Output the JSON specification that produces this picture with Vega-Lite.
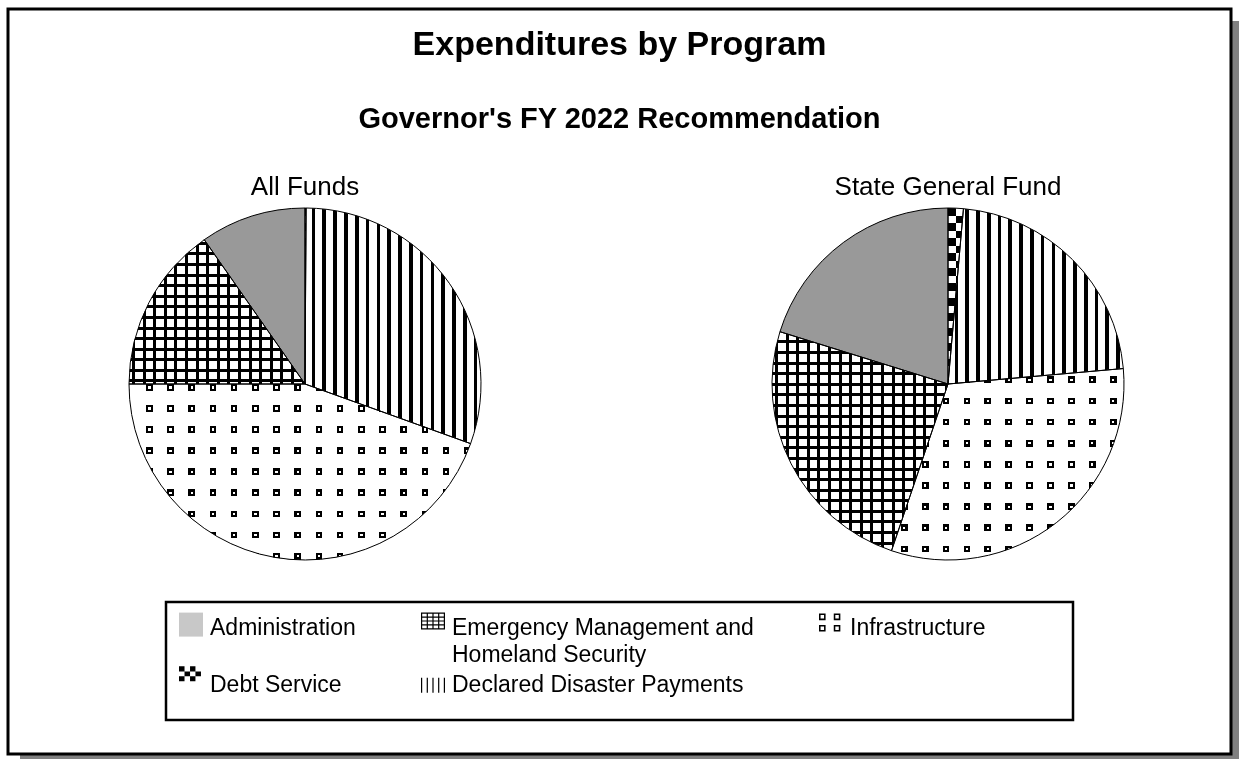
{
  "$schema": "https://vega.github.io/schema/vega-lite/v6.json",
  "width": 1223,
  "height": 745,
  "autosize": {"type": "none"},
  "padding": {"left": 8, "top": 9, "right": 8, "bottom": 5},
  "background": "white",
  "title": {
    "text": "Expenditures by Program",
    "subtitle": "Governor's FY 2022 Recommendation",
    "anchor": "middle",
    "frame": "group",
    "font": "Liberation Sans",
    "fontSize": 34,
    "fontWeight": "bold",
    "color": "black",
    "subtitleFont": "Liberation Sans",
    "subtitleFontSize": 29,
    "subtitleFontWeight": "bold",
    "subtitleColor": "black",
    "subtitlePadding": 42.7,
    "offset": -126.6
  },
  "data": {
    "values": [
      {"fund": "All Funds", "program": "Debt Service", "value": 0.1},
      {"fund": "All Funds", "program": "Declared Disaster Payments", "value": 30.4},
      {"fund": "All Funds", "program": "Infrastructure", "value": 44.5},
      {"fund": "All Funds", "program": "Emergency Management and Homeland Security", "value": 15.3},
      {"fund": "All Funds", "program": "Administration", "value": 9.7},
      {"fund": "State General Fund", "program": "Debt Service", "value": 1.4},
      {"fund": "State General Fund", "program": "Declared Disaster Payments", "value": 22.2},
      {"fund": "State General Fund", "program": "Infrastructure", "value": 31.6},
      {"fund": "State General Fund", "program": "Emergency Management and Homeland Security", "value": 24.6},
      {"fund": "State General Fund", "program": "Administration", "value": 20.2}
    ]
  },
  "transform": [{"stack": "value", "groupby": ["fund"], "as": ["t0", "t1"]}],
  "layer": [
    {
      "transform": [{"filter": "datum.fund === 'All Funds' && datum.program === 'Administration'"}],
      "mark": {"type": "rect", "fill": "#808080", "x": {"expr": "width + 12"}, "x2": 12, "y": 12, "y2": {"expr": "height + 12"}},
      "encoding": {}
    },
    {
      "transform": [{"filter": "datum.fund === 'All Funds' && datum.program === 'Administration'"}],
      "mark": {"type": "rect", "fill": "white", "stroke": "black", "strokeWidth": 3},
      "encoding": {}
    },
    {
      "mark": {"type": "arc", "outerRadius": 176, "y": 375},
      "encoding": {
        "x": {"field": "fund", "type": "nominal", "scale": {"domain": ["All Funds", "State General Fund"], "range": [297, 940], "padding": 0}, "axis": null},
        "theta": {"field": "t0", "type": "quantitative", "scale": {"domain": [0, 100]}, "stack": null},
        "theta2": {"field": "t1"},
        "fill": {"condition": {"test": "datum.program === 'Administration'", "value": "#999999"}, "value": "#ffffff"}
      }
    },
    {
      "transform": [{"filter": "datum.program === 'Declared Disaster Payments'"}],
      "mark": {"type": "arc", "outerRadius": 176, "y": 375, "fill": {"gradient": "linear", "x1": 0, "y1": 0, "x2": 1, "y2": 0, "stops": [
        {"offset": 0, "color": "#fff"},
        {"offset": 0.038, "color": "#fff"}, {"offset": 0.038, "color": "#000"}, {"offset": 0.059, "color": "#000"}, {"offset": 0.059, "color": "#fff"},
        {"offset": 0.0994, "color": "#fff"}, {"offset": 0.0994, "color": "#000"}, {"offset": 0.1204, "color": "#000"}, {"offset": 0.1204, "color": "#fff"},
        {"offset": 0.1608, "color": "#fff"}, {"offset": 0.1608, "color": "#000"}, {"offset": 0.1818, "color": "#000"}, {"offset": 0.1818, "color": "#fff"},
        {"offset": 0.2222, "color": "#fff"}, {"offset": 0.2222, "color": "#000"}, {"offset": 0.2432, "color": "#000"}, {"offset": 0.2432, "color": "#fff"},
        {"offset": 0.2836, "color": "#fff"}, {"offset": 0.2836, "color": "#000"}, {"offset": 0.3046, "color": "#000"}, {"offset": 0.3046, "color": "#fff"},
        {"offset": 0.345, "color": "#fff"}, {"offset": 0.345, "color": "#000"}, {"offset": 0.366, "color": "#000"}, {"offset": 0.366, "color": "#fff"},
        {"offset": 0.4064, "color": "#fff"}, {"offset": 0.4064, "color": "#000"}, {"offset": 0.4274, "color": "#000"}, {"offset": 0.4274, "color": "#fff"},
        {"offset": 0.4678, "color": "#fff"}, {"offset": 0.4678, "color": "#000"}, {"offset": 0.4888, "color": "#000"}, {"offset": 0.4888, "color": "#fff"},
        {"offset": 0.5292, "color": "#fff"}, {"offset": 0.5292, "color": "#000"}, {"offset": 0.5502, "color": "#000"}, {"offset": 0.5502, "color": "#fff"},
        {"offset": 0.5906, "color": "#fff"}, {"offset": 0.5906, "color": "#000"}, {"offset": 0.6116, "color": "#000"}, {"offset": 0.6116, "color": "#fff"},
        {"offset": 0.652, "color": "#fff"}, {"offset": 0.652, "color": "#000"}, {"offset": 0.673, "color": "#000"}, {"offset": 0.673, "color": "#fff"},
        {"offset": 0.7134, "color": "#fff"}, {"offset": 0.7134, "color": "#000"}, {"offset": 0.7344, "color": "#000"}, {"offset": 0.7344, "color": "#fff"},
        {"offset": 0.7748, "color": "#fff"}, {"offset": 0.7748, "color": "#000"}, {"offset": 0.7958, "color": "#000"}, {"offset": 0.7958, "color": "#fff"},
        {"offset": 0.8362, "color": "#fff"}, {"offset": 0.8362, "color": "#000"}, {"offset": 0.8572, "color": "#000"}, {"offset": 0.8572, "color": "#fff"},
        {"offset": 0.8976, "color": "#fff"}, {"offset": 0.8976, "color": "#000"}, {"offset": 0.9186, "color": "#000"}, {"offset": 0.9186, "color": "#fff"},
        {"offset": 0.959, "color": "#fff"}, {"offset": 0.959, "color": "#000"}, {"offset": 0.98, "color": "#000"}, {"offset": 0.98, "color": "#fff"},
        {"offset": 1, "color": "#fff"}]}},
      "encoding": {
        "x": {"field": "fund", "type": "nominal", "scale": {"domain": ["All Funds", "State General Fund"], "range": [297, 940], "padding": 0}, "axis": null},
        "theta": {"field": "t0", "type": "quantitative", "scale": {"domain": [0, 100]}, "stack": null},
        "theta2": {"field": "t1"}
      }
    },
    {
      "transform": [{"filter": "datum.program === 'Emergency Management and Homeland Security'"}],
      "mark": {"type": "arc", "outerRadius": 176, "y": 375, "fill": {"gradient": "linear", "x1": 0, "y1": 0, "x2": 1, "y2": 0, "stops": [
        {"offset": 0, "color": "#fff"},
        {"offset": 0.017, "color": "#fff"}, {"offset": 0.017, "color": "#000"}, {"offset": 0.0341, "color": "#000"}, {"offset": 0.0341, "color": "#fff"},
        {"offset": 0.0773, "color": "#fff"}, {"offset": 0.0773, "color": "#000"}, {"offset": 0.0943, "color": "#000"}, {"offset": 0.0943, "color": "#fff"},
        {"offset": 0.1375, "color": "#fff"}, {"offset": 0.1375, "color": "#000"}, {"offset": 0.1545, "color": "#000"}, {"offset": 0.1545, "color": "#fff"},
        {"offset": 0.1977, "color": "#fff"}, {"offset": 0.1977, "color": "#000"}, {"offset": 0.2148, "color": "#000"}, {"offset": 0.2148, "color": "#fff"},
        {"offset": 0.258, "color": "#fff"}, {"offset": 0.258, "color": "#000"}, {"offset": 0.275, "color": "#000"}, {"offset": 0.275, "color": "#fff"},
        {"offset": 0.3182, "color": "#fff"}, {"offset": 0.3182, "color": "#000"}, {"offset": 0.3352, "color": "#000"}, {"offset": 0.3352, "color": "#fff"},
        {"offset": 0.3784, "color": "#fff"}, {"offset": 0.3784, "color": "#000"}, {"offset": 0.3955, "color": "#000"}, {"offset": 0.3955, "color": "#fff"},
        {"offset": 0.4386, "color": "#fff"}, {"offset": 0.4386, "color": "#000"}, {"offset": 0.4557, "color": "#000"}, {"offset": 0.4557, "color": "#fff"},
        {"offset": 0.4989, "color": "#fff"}, {"offset": 0.4989, "color": "#000"}, {"offset": 0.5159, "color": "#000"}, {"offset": 0.5159, "color": "#fff"},
        {"offset": 0.5591, "color": "#fff"}, {"offset": 0.5591, "color": "#000"}, {"offset": 0.5761, "color": "#000"}, {"offset": 0.5761, "color": "#fff"},
        {"offset": 0.6193, "color": "#fff"}, {"offset": 0.6193, "color": "#000"}, {"offset": 0.6364, "color": "#000"}, {"offset": 0.6364, "color": "#fff"},
        {"offset": 0.6795, "color": "#fff"}, {"offset": 0.6795, "color": "#000"}, {"offset": 0.6966, "color": "#000"}, {"offset": 0.6966, "color": "#fff"},
        {"offset": 0.7398, "color": "#fff"}, {"offset": 0.7398, "color": "#000"}, {"offset": 0.7568, "color": "#000"}, {"offset": 0.7568, "color": "#fff"},
        {"offset": 0.8, "color": "#fff"}, {"offset": 0.8, "color": "#000"}, {"offset": 0.817, "color": "#000"}, {"offset": 0.817, "color": "#fff"},
        {"offset": 0.8602, "color": "#fff"}, {"offset": 0.8602, "color": "#000"}, {"offset": 0.8773, "color": "#000"}, {"offset": 0.8773, "color": "#fff"},
        {"offset": 0.9205, "color": "#fff"}, {"offset": 0.9205, "color": "#000"}, {"offset": 0.9375, "color": "#000"}, {"offset": 0.9375, "color": "#fff"},
        {"offset": 0.9807, "color": "#fff"}, {"offset": 0.9807, "color": "#000"}, {"offset": 0.9977, "color": "#000"}, {"offset": 0.9977, "color": "#fff"},
        {"offset": 1, "color": "#fff"}]}},
      "encoding": {
        "x": {"field": "fund", "type": "nominal", "scale": {"domain": ["All Funds", "State General Fund"], "range": [297, 940], "padding": 0}, "axis": null},
        "theta": {"field": "t0", "type": "quantitative", "scale": {"domain": [0, 100]}, "stack": null},
        "theta2": {"field": "t1"}
      }
    },
    {
      "transform": [{"filter": "datum.program === 'Emergency Management and Homeland Security' && datum.fund === 'All Funds'"}],
      "mark": {"type": "arc", "outerRadius": 176, "y": 375, "fill": {"gradient": "linear", "x1": 0, "y1": 0, "x2": 0, "y2": 1, "stops": [
        {"offset": 0, "color": "rgba(0,0,0,0)"},
        {"offset": 0.0145, "color": "rgba(0,0,0,0)"}, {"offset": 0.0145, "color": "#000"}, {"offset": 0.0353, "color": "#000"}, {"offset": 0.0353, "color": "rgba(0,0,0,0)"},
        {"offset": 0.088, "color": "rgba(0,0,0,0)"}, {"offset": 0.088, "color": "#000"}, {"offset": 0.1087, "color": "#000"}, {"offset": 0.1087, "color": "rgba(0,0,0,0)"},
        {"offset": 0.1614, "color": "rgba(0,0,0,0)"}, {"offset": 0.1614, "color": "#000"}, {"offset": 0.1821, "color": "#000"}, {"offset": 0.1821, "color": "rgba(0,0,0,0)"},
        {"offset": 0.2348, "color": "rgba(0,0,0,0)"}, {"offset": 0.2348, "color": "#000"}, {"offset": 0.2555, "color": "#000"}, {"offset": 0.2555, "color": "rgba(0,0,0,0)"},
        {"offset": 0.3082, "color": "rgba(0,0,0,0)"}, {"offset": 0.3082, "color": "#000"}, {"offset": 0.3289, "color": "#000"}, {"offset": 0.3289, "color": "rgba(0,0,0,0)"},
        {"offset": 0.3816, "color": "rgba(0,0,0,0)"}, {"offset": 0.3816, "color": "#000"}, {"offset": 0.4024, "color": "#000"}, {"offset": 0.4024, "color": "rgba(0,0,0,0)"},
        {"offset": 0.455, "color": "rgba(0,0,0,0)"}, {"offset": 0.455, "color": "#000"}, {"offset": 0.4758, "color": "#000"}, {"offset": 0.4758, "color": "rgba(0,0,0,0)"},
        {"offset": 0.5284, "color": "rgba(0,0,0,0)"}, {"offset": 0.5284, "color": "#000"}, {"offset": 0.5492, "color": "#000"}, {"offset": 0.5492, "color": "rgba(0,0,0,0)"},
        {"offset": 0.6018, "color": "rgba(0,0,0,0)"}, {"offset": 0.6018, "color": "#000"}, {"offset": 0.6226, "color": "#000"}, {"offset": 0.6226, "color": "rgba(0,0,0,0)"},
        {"offset": 0.6752, "color": "rgba(0,0,0,0)"}, {"offset": 0.6752, "color": "#000"}, {"offset": 0.696, "color": "#000"}, {"offset": 0.696, "color": "rgba(0,0,0,0)"},
        {"offset": 0.7486, "color": "rgba(0,0,0,0)"}, {"offset": 0.7486, "color": "#000"}, {"offset": 0.7694, "color": "#000"}, {"offset": 0.7694, "color": "rgba(0,0,0,0)"},
        {"offset": 0.822, "color": "rgba(0,0,0,0)"}, {"offset": 0.822, "color": "#000"}, {"offset": 0.8428, "color": "#000"}, {"offset": 0.8428, "color": "rgba(0,0,0,0)"},
        {"offset": 0.8954, "color": "rgba(0,0,0,0)"}, {"offset": 0.8954, "color": "#000"}, {"offset": 0.9162, "color": "#000"}, {"offset": 0.9162, "color": "rgba(0,0,0,0)"},
        {"offset": 0.9688, "color": "rgba(0,0,0,0)"}, {"offset": 0.9688, "color": "#000"}, {"offset": 0.9896, "color": "#000"}, {"offset": 0.9896, "color": "rgba(0,0,0,0)"},
        {"offset": 1, "color": "rgba(0,0,0,0)"}]}},
      "encoding": {
        "x": {"field": "fund", "type": "nominal", "scale": {"domain": ["All Funds", "State General Fund"], "range": [297, 940], "padding": 0}, "axis": null},
        "theta": {"field": "t0", "type": "quantitative", "scale": {"domain": [0, 100]}, "stack": null},
        "theta2": {"field": "t1"}
      }
    },
    {
      "transform": [{"filter": "datum.program === 'Emergency Management and Homeland Security' && datum.fund === 'State General Fund'"}],
      "mark": {"type": "arc", "outerRadius": 176, "y": 375, "fill": {"gradient": "linear", "x1": 0, "y1": 0, "x2": 0, "y2": 1, "stops": [
        {"offset": 0, "color": "rgba(0,0,0,0)"},
        {"offset": 0.0393, "color": "rgba(0,0,0,0)"}, {"offset": 0.0393, "color": "#000"}, {"offset": 0.053, "color": "#000"}, {"offset": 0.053, "color": "rgba(0,0,0,0)"},
        {"offset": 0.0877, "color": "rgba(0,0,0,0)"}, {"offset": 0.0877, "color": "#000"}, {"offset": 0.1014, "color": "#000"}, {"offset": 0.1014, "color": "rgba(0,0,0,0)"},
        {"offset": 0.1361, "color": "rgba(0,0,0,0)"}, {"offset": 0.1361, "color": "#000"}, {"offset": 0.1498, "color": "#000"}, {"offset": 0.1498, "color": "rgba(0,0,0,0)"},
        {"offset": 0.1845, "color": "rgba(0,0,0,0)"}, {"offset": 0.1845, "color": "#000"}, {"offset": 0.1982, "color": "#000"}, {"offset": 0.1982, "color": "rgba(0,0,0,0)"},
        {"offset": 0.2329, "color": "rgba(0,0,0,0)"}, {"offset": 0.2329, "color": "#000"}, {"offset": 0.2466, "color": "#000"}, {"offset": 0.2466, "color": "rgba(0,0,0,0)"},
        {"offset": 0.2813, "color": "rgba(0,0,0,0)"}, {"offset": 0.2813, "color": "#000"}, {"offset": 0.295, "color": "#000"}, {"offset": 0.295, "color": "rgba(0,0,0,0)"},
        {"offset": 0.3297, "color": "rgba(0,0,0,0)"}, {"offset": 0.3297, "color": "#000"}, {"offset": 0.3434, "color": "#000"}, {"offset": 0.3434, "color": "rgba(0,0,0,0)"},
        {"offset": 0.3781, "color": "rgba(0,0,0,0)"}, {"offset": 0.3781, "color": "#000"}, {"offset": 0.3918, "color": "#000"}, {"offset": 0.3918, "color": "rgba(0,0,0,0)"},
        {"offset": 0.4265, "color": "rgba(0,0,0,0)"}, {"offset": 0.4265, "color": "#000"}, {"offset": 0.4402, "color": "#000"}, {"offset": 0.4402, "color": "rgba(0,0,0,0)"},
        {"offset": 0.4749, "color": "rgba(0,0,0,0)"}, {"offset": 0.4749, "color": "#000"}, {"offset": 0.4886, "color": "#000"}, {"offset": 0.4886, "color": "rgba(0,0,0,0)"},
        {"offset": 0.5233, "color": "rgba(0,0,0,0)"}, {"offset": 0.5233, "color": "#000"}, {"offset": 0.537, "color": "#000"}, {"offset": 0.537, "color": "rgba(0,0,0,0)"},
        {"offset": 0.5717, "color": "rgba(0,0,0,0)"}, {"offset": 0.5717, "color": "#000"}, {"offset": 0.5854, "color": "#000"}, {"offset": 0.5854, "color": "rgba(0,0,0,0)"},
        {"offset": 0.6201, "color": "rgba(0,0,0,0)"}, {"offset": 0.6201, "color": "#000"}, {"offset": 0.6338, "color": "#000"}, {"offset": 0.6338, "color": "rgba(0,0,0,0)"},
        {"offset": 0.6685, "color": "rgba(0,0,0,0)"}, {"offset": 0.6685, "color": "#000"}, {"offset": 0.6822, "color": "#000"}, {"offset": 0.6822, "color": "rgba(0,0,0,0)"},
        {"offset": 0.7169, "color": "rgba(0,0,0,0)"}, {"offset": 0.7169, "color": "#000"}, {"offset": 0.7306, "color": "#000"}, {"offset": 0.7306, "color": "rgba(0,0,0,0)"},
        {"offset": 0.7653, "color": "rgba(0,0,0,0)"}, {"offset": 0.7653, "color": "#000"}, {"offset": 0.779, "color": "#000"}, {"offset": 0.779, "color": "rgba(0,0,0,0)"},
        {"offset": 0.8137, "color": "rgba(0,0,0,0)"}, {"offset": 0.8137, "color": "#000"}, {"offset": 0.8274, "color": "#000"}, {"offset": 0.8274, "color": "rgba(0,0,0,0)"},
        {"offset": 0.8621, "color": "rgba(0,0,0,0)"}, {"offset": 0.8621, "color": "#000"}, {"offset": 0.8758, "color": "#000"}, {"offset": 0.8758, "color": "rgba(0,0,0,0)"},
        {"offset": 0.9105, "color": "rgba(0,0,0,0)"}, {"offset": 0.9105, "color": "#000"}, {"offset": 0.9242, "color": "#000"}, {"offset": 0.9242, "color": "rgba(0,0,0,0)"},
        {"offset": 0.9589, "color": "rgba(0,0,0,0)"}, {"offset": 0.9589, "color": "#000"}, {"offset": 0.9726, "color": "#000"}, {"offset": 0.9726, "color": "rgba(0,0,0,0)"},
        {"offset": 1, "color": "rgba(0,0,0,0)"}]}},
      "encoding": {
        "x": {"field": "fund", "type": "nominal", "scale": {"domain": ["All Funds", "State General Fund"], "range": [297, 940], "padding": 0}, "axis": null},
        "theta": {"field": "t0", "type": "quantitative", "scale": {"domain": [0, 100]}, "stack": null},
        "theta2": {"field": "t1"}
      }
    },
    {
      "transform": [{"filter": "datum.program === 'Infrastructure' && datum.fund === 'All Funds'"}],
      "mark": {"type": "arc", "outerRadius": 176, "y": 375, "fill": {"gradient": "linear", "x1": 0, "y1": 0, "x2": 1, "y2": 0, "stops": [
        {"offset": 0, "color": "#fff"},
        {"offset": 0.0498, "color": "#fff"}, {"offset": 0.0498, "color": "#000"}, {"offset": 0.0562, "color": "#000"}, {"offset": 0.0562, "color": "#fff"},
        {"offset": 0.063, "color": "#fff"}, {"offset": 0.063, "color": "#000"}, {"offset": 0.0694, "color": "#000"}, {"offset": 0.0694, "color": "#fff"},
        {"offset": 0.1118, "color": "#fff"}, {"offset": 0.1118, "color": "#000"}, {"offset": 0.1182, "color": "#000"}, {"offset": 0.1182, "color": "#fff"},
        {"offset": 0.125, "color": "#fff"}, {"offset": 0.125, "color": "#000"}, {"offset": 0.1314, "color": "#000"}, {"offset": 0.1314, "color": "#fff"},
        {"offset": 0.1739, "color": "#fff"}, {"offset": 0.1739, "color": "#000"}, {"offset": 0.1803, "color": "#000"}, {"offset": 0.1803, "color": "#fff"},
        {"offset": 0.1871, "color": "#fff"}, {"offset": 0.1871, "color": "#000"}, {"offset": 0.1935, "color": "#000"}, {"offset": 0.1935, "color": "#fff"},
        {"offset": 0.236, "color": "#fff"}, {"offset": 0.236, "color": "#000"}, {"offset": 0.2424, "color": "#000"}, {"offset": 0.2424, "color": "#fff"},
        {"offset": 0.2492, "color": "#fff"}, {"offset": 0.2492, "color": "#000"}, {"offset": 0.2556, "color": "#000"}, {"offset": 0.2556, "color": "#fff"},
        {"offset": 0.298, "color": "#fff"}, {"offset": 0.298, "color": "#000"}, {"offset": 0.3044, "color": "#000"}, {"offset": 0.3044, "color": "#fff"},
        {"offset": 0.3112, "color": "#fff"}, {"offset": 0.3112, "color": "#000"}, {"offset": 0.3176, "color": "#000"}, {"offset": 0.3176, "color": "#fff"},
        {"offset": 0.3601, "color": "#fff"}, {"offset": 0.3601, "color": "#000"}, {"offset": 0.3665, "color": "#000"}, {"offset": 0.3665, "color": "#fff"},
        {"offset": 0.3733, "color": "#fff"}, {"offset": 0.3733, "color": "#000"}, {"offset": 0.3797, "color": "#000"}, {"offset": 0.3797, "color": "#fff"},
        {"offset": 0.4221, "color": "#fff"}, {"offset": 0.4221, "color": "#000"}, {"offset": 0.4285, "color": "#000"}, {"offset": 0.4285, "color": "#fff"},
        {"offset": 0.4353, "color": "#fff"}, {"offset": 0.4353, "color": "#000"}, {"offset": 0.4417, "color": "#000"}, {"offset": 0.4417, "color": "#fff"},
        {"offset": 0.4842, "color": "#fff"}, {"offset": 0.4842, "color": "#000"}, {"offset": 0.4906, "color": "#000"}, {"offset": 0.4906, "color": "#fff"},
        {"offset": 0.4974, "color": "#fff"}, {"offset": 0.4974, "color": "#000"}, {"offset": 0.5038, "color": "#000"}, {"offset": 0.5038, "color": "#fff"},
        {"offset": 0.5463, "color": "#fff"}, {"offset": 0.5463, "color": "#000"}, {"offset": 0.5527, "color": "#000"}, {"offset": 0.5527, "color": "#fff"},
        {"offset": 0.5595, "color": "#fff"}, {"offset": 0.5595, "color": "#000"}, {"offset": 0.5659, "color": "#000"}, {"offset": 0.5659, "color": "#fff"},
        {"offset": 0.6083, "color": "#fff"}, {"offset": 0.6083, "color": "#000"}, {"offset": 0.6147, "color": "#000"}, {"offset": 0.6147, "color": "#fff"},
        {"offset": 0.6215, "color": "#fff"}, {"offset": 0.6215, "color": "#000"}, {"offset": 0.6279, "color": "#000"}, {"offset": 0.6279, "color": "#fff"},
        {"offset": 0.6704, "color": "#fff"}, {"offset": 0.6704, "color": "#000"}, {"offset": 0.6768, "color": "#000"}, {"offset": 0.6768, "color": "#fff"},
        {"offset": 0.6836, "color": "#fff"}, {"offset": 0.6836, "color": "#000"}, {"offset": 0.69, "color": "#000"}, {"offset": 0.69, "color": "#fff"},
        {"offset": 0.7324, "color": "#fff"}, {"offset": 0.7324, "color": "#000"}, {"offset": 0.7388, "color": "#000"}, {"offset": 0.7388, "color": "#fff"},
        {"offset": 0.7456, "color": "#fff"}, {"offset": 0.7456, "color": "#000"}, {"offset": 0.752, "color": "#000"}, {"offset": 0.752, "color": "#fff"},
        {"offset": 0.7945, "color": "#fff"}, {"offset": 0.7945, "color": "#000"}, {"offset": 0.8009, "color": "#000"}, {"offset": 0.8009, "color": "#fff"},
        {"offset": 0.8077, "color": "#fff"}, {"offset": 0.8077, "color": "#000"}, {"offset": 0.8141, "color": "#000"}, {"offset": 0.8141, "color": "#fff"},
        {"offset": 0.8566, "color": "#fff"}, {"offset": 0.8566, "color": "#000"}, {"offset": 0.863, "color": "#000"}, {"offset": 0.863, "color": "#fff"},
        {"offset": 0.8698, "color": "#fff"}, {"offset": 0.8698, "color": "#000"}, {"offset": 0.8762, "color": "#000"}, {"offset": 0.8762, "color": "#fff"},
        {"offset": 0.9186, "color": "#fff"}, {"offset": 0.9186, "color": "#000"}, {"offset": 0.925, "color": "#000"}, {"offset": 0.925, "color": "#fff"},
        {"offset": 0.9318, "color": "#fff"}, {"offset": 0.9318, "color": "#000"}, {"offset": 0.9382, "color": "#000"}, {"offset": 0.9382, "color": "#fff"},
        {"offset": 0.9807, "color": "#fff"}, {"offset": 0.9807, "color": "#000"}, {"offset": 0.9871, "color": "#000"}, {"offset": 0.9871, "color": "#fff"},
        {"offset": 0.9939, "color": "#fff"}, {"offset": 0.9939, "color": "#000"}, {"offset": 0.9999, "color": "#000"}, {"offset": 0.9999, "color": "#fff"},
        {"offset": 1, "color": "#fff"}]}},
      "encoding": {
        "x": {"field": "fund", "type": "nominal", "scale": {"domain": ["All Funds", "State General Fund"], "range": [297, 940], "padding": 0}, "axis": null},
        "theta": {"field": "t0", "type": "quantitative", "scale": {"domain": [0, 100]}, "stack": null},
        "theta2": {"field": "t1"}
      }
    },
    {
      "transform": [{"filter": "datum.program === 'Infrastructure' && datum.fund === 'All Funds'"}],
      "mark": {"type": "arc", "outerRadius": 176, "y": 375, "blend": "darken", "fill": {"gradient": "linear", "x1": 0, "y1": 0, "x2": 0, "y2": 1, "stops": [
        {"offset": 0, "color": "#000"}, {"offset": 0.0125, "color": "#000"}, {"offset": 0.0125, "color": "#fff"},
        {"offset": 0.0256, "color": "#fff"}, {"offset": 0.0256, "color": "#000"}, {"offset": 0.0381, "color": "#000"}, {"offset": 0.0381, "color": "#fff"},
        {"offset": 0.1199, "color": "#fff"}, {"offset": 0.1199, "color": "#000"}, {"offset": 0.1324, "color": "#000"}, {"offset": 0.1324, "color": "#fff"},
        {"offset": 0.1455, "color": "#fff"}, {"offset": 0.1455, "color": "#000"}, {"offset": 0.158, "color": "#000"}, {"offset": 0.158, "color": "#fff"},
        {"offset": 0.2398, "color": "#fff"}, {"offset": 0.2398, "color": "#000"}, {"offset": 0.2523, "color": "#000"}, {"offset": 0.2523, "color": "#fff"},
        {"offset": 0.2653, "color": "#fff"}, {"offset": 0.2653, "color": "#000"}, {"offset": 0.2778, "color": "#000"}, {"offset": 0.2778, "color": "#fff"},
        {"offset": 0.3597, "color": "#fff"}, {"offset": 0.3597, "color": "#000"}, {"offset": 0.3722, "color": "#000"}, {"offset": 0.3722, "color": "#fff"},
        {"offset": 0.3852, "color": "#fff"}, {"offset": 0.3852, "color": "#000"}, {"offset": 0.3977, "color": "#000"}, {"offset": 0.3977, "color": "#fff"},
        {"offset": 0.4795, "color": "#fff"}, {"offset": 0.4795, "color": "#000"}, {"offset": 0.492, "color": "#000"}, {"offset": 0.492, "color": "#fff"},
        {"offset": 0.5051, "color": "#fff"}, {"offset": 0.5051, "color": "#000"}, {"offset": 0.5176, "color": "#000"}, {"offset": 0.5176, "color": "#fff"},
        {"offset": 0.5994, "color": "#fff"}, {"offset": 0.5994, "color": "#000"}, {"offset": 0.6119, "color": "#000"}, {"offset": 0.6119, "color": "#fff"},
        {"offset": 0.625, "color": "#fff"}, {"offset": 0.625, "color": "#000"}, {"offset": 0.6375, "color": "#000"}, {"offset": 0.6375, "color": "#fff"},
        {"offset": 0.7193, "color": "#fff"}, {"offset": 0.7193, "color": "#000"}, {"offset": 0.7318, "color": "#000"}, {"offset": 0.7318, "color": "#fff"},
        {"offset": 0.7449, "color": "#fff"}, {"offset": 0.7449, "color": "#000"}, {"offset": 0.7574, "color": "#000"}, {"offset": 0.7574, "color": "#fff"},
        {"offset": 0.8392, "color": "#fff"}, {"offset": 0.8392, "color": "#000"}, {"offset": 0.8517, "color": "#000"}, {"offset": 0.8517, "color": "#fff"},
        {"offset": 0.8648, "color": "#fff"}, {"offset": 0.8648, "color": "#000"}, {"offset": 0.8773, "color": "#000"}, {"offset": 0.8773, "color": "#fff"},
        {"offset": 0.9591, "color": "#fff"}, {"offset": 0.9591, "color": "#000"}, {"offset": 0.9716, "color": "#000"}, {"offset": 0.9716, "color": "#fff"},
        {"offset": 0.9847, "color": "#fff"}, {"offset": 0.9847, "color": "#000"}, {"offset": 0.9972, "color": "#000"}, {"offset": 0.9972, "color": "#fff"},
        {"offset": 1, "color": "#fff"}]}},
      "encoding": {
        "x": {"field": "fund", "type": "nominal", "scale": {"domain": ["All Funds", "State General Fund"], "range": [297, 940], "padding": 0}, "axis": null},
        "theta": {"field": "t0", "type": "quantitative", "scale": {"domain": [0, 100]}, "stack": null},
        "theta2": {"field": "t1"}
      }
    },
    {
      "transform": [{"filter": "datum.program === 'Infrastructure' && datum.fund === 'All Funds'"}],
      "mark": {"type": "arc", "outerRadius": 176, "y": 375, "blend": "lighten", "fill": {"gradient": "linear", "x1": 0, "y1": 0, "x2": 0, "y2": 1, "stops": [
        {"offset": 0, "color": "#000"}, {"offset": 0.0381, "color": "#000"}, {"offset": 0.0381, "color": "#fff"},
        {"offset": 0.1199, "color": "#fff"}, {"offset": 0.1199, "color": "#000"}, {"offset": 0.158, "color": "#000"}, {"offset": 0.158, "color": "#fff"},
        {"offset": 0.2398, "color": "#fff"}, {"offset": 0.2398, "color": "#000"}, {"offset": 0.2778, "color": "#000"}, {"offset": 0.2778, "color": "#fff"},
        {"offset": 0.3597, "color": "#fff"}, {"offset": 0.3597, "color": "#000"}, {"offset": 0.3977, "color": "#000"}, {"offset": 0.3977, "color": "#fff"},
        {"offset": 0.4795, "color": "#fff"}, {"offset": 0.4795, "color": "#000"}, {"offset": 0.5176, "color": "#000"}, {"offset": 0.5176, "color": "#fff"},
        {"offset": 0.5994, "color": "#fff"}, {"offset": 0.5994, "color": "#000"}, {"offset": 0.6375, "color": "#000"}, {"offset": 0.6375, "color": "#fff"},
        {"offset": 0.7193, "color": "#fff"}, {"offset": 0.7193, "color": "#000"}, {"offset": 0.7574, "color": "#000"}, {"offset": 0.7574, "color": "#fff"},
        {"offset": 0.8392, "color": "#fff"}, {"offset": 0.8392, "color": "#000"}, {"offset": 0.8773, "color": "#000"}, {"offset": 0.8773, "color": "#fff"},
        {"offset": 0.9591, "color": "#fff"}, {"offset": 0.9591, "color": "#000"}, {"offset": 0.9972, "color": "#000"}, {"offset": 0.9972, "color": "#fff"},
        {"offset": 1, "color": "#fff"}]}},
      "encoding": {
        "x": {"field": "fund", "type": "nominal", "scale": {"domain": ["All Funds", "State General Fund"], "range": [297, 940], "padding": 0}, "axis": null},
        "theta": {"field": "t0", "type": "quantitative", "scale": {"domain": [0, 100]}, "stack": null},
        "theta2": {"field": "t1"}
      }
    },
    {
      "transform": [{"filter": "datum.program === 'Infrastructure' && datum.fund === 'All Funds'"}],
      "mark": {"type": "arc", "outerRadius": 176, "y": 375, "blend": "lighten", "fill": {"gradient": "linear", "x1": 0, "y1": 0, "x2": 1, "y2": 0, "stops": [
        {"offset": 0, "color": "#fff"},
        {"offset": 0.0498, "color": "#fff"}, {"offset": 0.0498, "color": "#000"}, {"offset": 0.0694, "color": "#000"}, {"offset": 0.0694, "color": "#fff"},
        {"offset": 0.1118, "color": "#fff"}, {"offset": 0.1118, "color": "#000"}, {"offset": 0.1314, "color": "#000"}, {"offset": 0.1314, "color": "#fff"},
        {"offset": 0.1739, "color": "#fff"}, {"offset": 0.1739, "color": "#000"}, {"offset": 0.1935, "color": "#000"}, {"offset": 0.1935, "color": "#fff"},
        {"offset": 0.236, "color": "#fff"}, {"offset": 0.236, "color": "#000"}, {"offset": 0.2556, "color": "#000"}, {"offset": 0.2556, "color": "#fff"},
        {"offset": 0.298, "color": "#fff"}, {"offset": 0.298, "color": "#000"}, {"offset": 0.3176, "color": "#000"}, {"offset": 0.3176, "color": "#fff"},
        {"offset": 0.3601, "color": "#fff"}, {"offset": 0.3601, "color": "#000"}, {"offset": 0.3797, "color": "#000"}, {"offset": 0.3797, "color": "#fff"},
        {"offset": 0.4221, "color": "#fff"}, {"offset": 0.4221, "color": "#000"}, {"offset": 0.4418, "color": "#000"}, {"offset": 0.4418, "color": "#fff"},
        {"offset": 0.4842, "color": "#fff"}, {"offset": 0.4842, "color": "#000"}, {"offset": 0.5038, "color": "#000"}, {"offset": 0.5038, "color": "#fff"},
        {"offset": 0.5463, "color": "#fff"}, {"offset": 0.5463, "color": "#000"}, {"offset": 0.5659, "color": "#000"}, {"offset": 0.5659, "color": "#fff"},
        {"offset": 0.6083, "color": "#fff"}, {"offset": 0.6083, "color": "#000"}, {"offset": 0.6279, "color": "#000"}, {"offset": 0.6279, "color": "#fff"},
        {"offset": 0.6704, "color": "#fff"}, {"offset": 0.6704, "color": "#000"}, {"offset": 0.69, "color": "#000"}, {"offset": 0.69, "color": "#fff"},
        {"offset": 0.7324, "color": "#fff"}, {"offset": 0.7324, "color": "#000"}, {"offset": 0.7521, "color": "#000"}, {"offset": 0.7521, "color": "#fff"},
        {"offset": 0.7945, "color": "#fff"}, {"offset": 0.7945, "color": "#000"}, {"offset": 0.8141, "color": "#000"}, {"offset": 0.8141, "color": "#fff"},
        {"offset": 0.8566, "color": "#fff"}, {"offset": 0.8566, "color": "#000"}, {"offset": 0.8762, "color": "#000"}, {"offset": 0.8762, "color": "#fff"},
        {"offset": 0.9186, "color": "#fff"}, {"offset": 0.9186, "color": "#000"}, {"offset": 0.9382, "color": "#000"}, {"offset": 0.9382, "color": "#fff"},
        {"offset": 0.9807, "color": "#fff"}, {"offset": 0.9807, "color": "#000"}, {"offset": 0.9999, "color": "#000"}, {"offset": 0.9999, "color": "#fff"},
        {"offset": 1, "color": "#fff"}]}},
      "encoding": {
        "x": {"field": "fund", "type": "nominal", "scale": {"domain": ["All Funds", "State General Fund"], "range": [297, 940], "padding": 0}, "axis": null},
        "theta": {"field": "t0", "type": "quantitative", "scale": {"domain": [0, 100]}, "stack": null},
        "theta2": {"field": "t1"}
      }
    },
    {
      "transform": [{"filter": "datum.program === 'Infrastructure' && datum.fund === 'State General Fund'"}],
      "mark": {"type": "arc", "outerRadius": 176, "y": 375, "fill": {"gradient": "linear", "x1": 0, "y1": 0, "x2": 1, "y2": 0, "stops": [
        {"offset": 0, "color": "#fff"},
        {"offset": 0.0404, "color": "#fff"}, {"offset": 0.0404, "color": "#000"}, {"offset": 0.0499, "color": "#000"}, {"offset": 0.0499, "color": "#fff"},
        {"offset": 0.0597, "color": "#fff"}, {"offset": 0.0597, "color": "#000"}, {"offset": 0.0692, "color": "#000"}, {"offset": 0.0692, "color": "#fff"},
        {"offset": 0.1303, "color": "#fff"}, {"offset": 0.1303, "color": "#000"}, {"offset": 0.1398, "color": "#000"}, {"offset": 0.1398, "color": "#fff"},
        {"offset": 0.1496, "color": "#fff"}, {"offset": 0.1496, "color": "#000"}, {"offset": 0.1591, "color": "#000"}, {"offset": 0.1591, "color": "#fff"},
        {"offset": 0.2201, "color": "#fff"}, {"offset": 0.2201, "color": "#000"}, {"offset": 0.2296, "color": "#000"}, {"offset": 0.2296, "color": "#fff"},
        {"offset": 0.2394, "color": "#fff"}, {"offset": 0.2394, "color": "#000"}, {"offset": 0.2489, "color": "#000"}, {"offset": 0.2489, "color": "#fff"},
        {"offset": 0.31, "color": "#fff"}, {"offset": 0.31, "color": "#000"}, {"offset": 0.3195, "color": "#000"}, {"offset": 0.3195, "color": "#fff"},
        {"offset": 0.3293, "color": "#fff"}, {"offset": 0.3293, "color": "#000"}, {"offset": 0.3388, "color": "#000"}, {"offset": 0.3388, "color": "#fff"},
        {"offset": 0.3998, "color": "#fff"}, {"offset": 0.3998, "color": "#000"}, {"offset": 0.4093, "color": "#000"}, {"offset": 0.4093, "color": "#fff"},
        {"offset": 0.4191, "color": "#fff"}, {"offset": 0.4191, "color": "#000"}, {"offset": 0.4286, "color": "#000"}, {"offset": 0.4286, "color": "#fff"},
        {"offset": 0.4897, "color": "#fff"}, {"offset": 0.4897, "color": "#000"}, {"offset": 0.4992, "color": "#000"}, {"offset": 0.4992, "color": "#fff"},
        {"offset": 0.509, "color": "#fff"}, {"offset": 0.509, "color": "#000"}, {"offset": 0.5185, "color": "#000"}, {"offset": 0.5185, "color": "#fff"},
        {"offset": 0.5795, "color": "#fff"}, {"offset": 0.5795, "color": "#000"}, {"offset": 0.589, "color": "#000"}, {"offset": 0.589, "color": "#fff"},
        {"offset": 0.5988, "color": "#fff"}, {"offset": 0.5988, "color": "#000"}, {"offset": 0.6083, "color": "#000"}, {"offset": 0.6083, "color": "#fff"},
        {"offset": 0.6694, "color": "#fff"}, {"offset": 0.6694, "color": "#000"}, {"offset": 0.6789, "color": "#000"}, {"offset": 0.6789, "color": "#fff"},
        {"offset": 0.6887, "color": "#fff"}, {"offset": 0.6887, "color": "#000"}, {"offset": 0.6982, "color": "#000"}, {"offset": 0.6982, "color": "#fff"},
        {"offset": 0.7592, "color": "#fff"}, {"offset": 0.7592, "color": "#000"}, {"offset": 0.7687, "color": "#000"}, {"offset": 0.7687, "color": "#fff"},
        {"offset": 0.7785, "color": "#fff"}, {"offset": 0.7785, "color": "#000"}, {"offset": 0.788, "color": "#000"}, {"offset": 0.788, "color": "#fff"},
        {"offset": 0.8491, "color": "#fff"}, {"offset": 0.8491, "color": "#000"}, {"offset": 0.8586, "color": "#000"}, {"offset": 0.8586, "color": "#fff"},
        {"offset": 0.8684, "color": "#fff"}, {"offset": 0.8684, "color": "#000"}, {"offset": 0.8779, "color": "#000"}, {"offset": 0.8779, "color": "#fff"},
        {"offset": 0.939, "color": "#fff"}, {"offset": 0.939, "color": "#000"}, {"offset": 0.9485, "color": "#000"}, {"offset": 0.9485, "color": "#fff"},
        {"offset": 0.9583, "color": "#fff"}, {"offset": 0.9583, "color": "#000"}, {"offset": 0.9678, "color": "#000"}, {"offset": 0.9678, "color": "#fff"},
        {"offset": 1, "color": "#fff"}]}},
      "encoding": {
        "x": {"field": "fund", "type": "nominal", "scale": {"domain": ["All Funds", "State General Fund"], "range": [297, 940], "padding": 0}, "axis": null},
        "theta": {"field": "t0", "type": "quantitative", "scale": {"domain": [0, 100]}, "stack": null},
        "theta2": {"field": "t1"}
      }
    },
    {
      "transform": [{"filter": "datum.program === 'Infrastructure' && datum.fund === 'State General Fund'"}],
      "mark": {"type": "arc", "outerRadius": 176, "y": 375, "blend": "darken", "fill": {"gradient": "linear", "x1": 0, "y1": 0, "x2": 0, "y2": 1, "stops": [
        {"offset": 0, "color": "#fff"},
        {"offset": 0.0412, "color": "#fff"}, {"offset": 0.0412, "color": "#000"}, {"offset": 0.0527, "color": "#000"}, {"offset": 0.0527, "color": "#fff"},
        {"offset": 0.0646, "color": "#fff"}, {"offset": 0.0646, "color": "#000"}, {"offset": 0.0761, "color": "#000"}, {"offset": 0.0761, "color": "#fff"},
        {"offset": 0.1516, "color": "#fff"}, {"offset": 0.1516, "color": "#000"}, {"offset": 0.1631, "color": "#000"}, {"offset": 0.1631, "color": "#fff"},
        {"offset": 0.175, "color": "#fff"}, {"offset": 0.175, "color": "#000"}, {"offset": 0.1865, "color": "#000"}, {"offset": 0.1865, "color": "#fff"},
        {"offset": 0.2621, "color": "#fff"}, {"offset": 0.2621, "color": "#000"}, {"offset": 0.2736, "color": "#000"}, {"offset": 0.2736, "color": "#fff"},
        {"offset": 0.2855, "color": "#fff"}, {"offset": 0.2855, "color": "#000"}, {"offset": 0.297, "color": "#000"}, {"offset": 0.297, "color": "#fff"},
        {"offset": 0.3726, "color": "#fff"}, {"offset": 0.3726, "color": "#000"}, {"offset": 0.3841, "color": "#000"}, {"offset": 0.3841, "color": "#fff"},
        {"offset": 0.396, "color": "#fff"}, {"offset": 0.396, "color": "#000"}, {"offset": 0.4075, "color": "#000"}, {"offset": 0.4075, "color": "#fff"},
        {"offset": 0.4831, "color": "#fff"}, {"offset": 0.4831, "color": "#000"}, {"offset": 0.4946, "color": "#000"}, {"offset": 0.4946, "color": "#fff"},
        {"offset": 0.5065, "color": "#fff"}, {"offset": 0.5065, "color": "#000"}, {"offset": 0.518, "color": "#000"}, {"offset": 0.518, "color": "#fff"},
        {"offset": 0.5935, "color": "#fff"}, {"offset": 0.5935, "color": "#000"}, {"offset": 0.605, "color": "#000"}, {"offset": 0.605, "color": "#fff"},
        {"offset": 0.6169, "color": "#fff"}, {"offset": 0.6169, "color": "#000"}, {"offset": 0.6284, "color": "#000"}, {"offset": 0.6284, "color": "#fff"},
        {"offset": 0.704, "color": "#fff"}, {"offset": 0.704, "color": "#000"}, {"offset": 0.7155, "color": "#000"}, {"offset": 0.7155, "color": "#fff"},
        {"offset": 0.7274, "color": "#fff"}, {"offset": 0.7274, "color": "#000"}, {"offset": 0.7389, "color": "#000"}, {"offset": 0.7389, "color": "#fff"},
        {"offset": 0.8145, "color": "#fff"}, {"offset": 0.8145, "color": "#000"}, {"offset": 0.826, "color": "#000"}, {"offset": 0.826, "color": "#fff"},
        {"offset": 0.8379, "color": "#fff"}, {"offset": 0.8379, "color": "#000"}, {"offset": 0.8494, "color": "#000"}, {"offset": 0.8494, "color": "#fff"},
        {"offset": 0.925, "color": "#fff"}, {"offset": 0.925, "color": "#000"}, {"offset": 0.9365, "color": "#000"}, {"offset": 0.9365, "color": "#fff"},
        {"offset": 0.9484, "color": "#fff"}, {"offset": 0.9484, "color": "#000"}, {"offset": 0.9599, "color": "#000"}, {"offset": 0.9599, "color": "#fff"},
        {"offset": 1, "color": "#fff"}]}},
      "encoding": {
        "x": {"field": "fund", "type": "nominal", "scale": {"domain": ["All Funds", "State General Fund"], "range": [297, 940], "padding": 0}, "axis": null},
        "theta": {"field": "t0", "type": "quantitative", "scale": {"domain": [0, 100]}, "stack": null},
        "theta2": {"field": "t1"}
      }
    },
    {
      "transform": [{"filter": "datum.program === 'Infrastructure' && datum.fund === 'State General Fund'"}],
      "mark": {"type": "arc", "outerRadius": 176, "y": 375, "blend": "lighten", "fill": {"gradient": "linear", "x1": 0, "y1": 0, "x2": 0, "y2": 1, "stops": [
        {"offset": 0, "color": "#fff"},
        {"offset": 0.0412, "color": "#fff"}, {"offset": 0.0412, "color": "#000"}, {"offset": 0.0761, "color": "#000"}, {"offset": 0.0761, "color": "#fff"},
        {"offset": 0.1516, "color": "#fff"}, {"offset": 0.1516, "color": "#000"}, {"offset": 0.1866, "color": "#000"}, {"offset": 0.1866, "color": "#fff"},
        {"offset": 0.2621, "color": "#fff"}, {"offset": 0.2621, "color": "#000"}, {"offset": 0.297, "color": "#000"}, {"offset": 0.297, "color": "#fff"},
        {"offset": 0.3726, "color": "#fff"}, {"offset": 0.3726, "color": "#000"}, {"offset": 0.4075, "color": "#000"}, {"offset": 0.4075, "color": "#fff"},
        {"offset": 0.4831, "color": "#fff"}, {"offset": 0.4831, "color": "#000"}, {"offset": 0.518, "color": "#000"}, {"offset": 0.518, "color": "#fff"},
        {"offset": 0.5935, "color": "#fff"}, {"offset": 0.5935, "color": "#000"}, {"offset": 0.6285, "color": "#000"}, {"offset": 0.6285, "color": "#fff"},
        {"offset": 0.704, "color": "#fff"}, {"offset": 0.704, "color": "#000"}, {"offset": 0.7389, "color": "#000"}, {"offset": 0.7389, "color": "#fff"},
        {"offset": 0.8145, "color": "#fff"}, {"offset": 0.8145, "color": "#000"}, {"offset": 0.8494, "color": "#000"}, {"offset": 0.8494, "color": "#fff"},
        {"offset": 0.925, "color": "#fff"}, {"offset": 0.925, "color": "#000"}, {"offset": 0.9599, "color": "#000"}, {"offset": 0.9599, "color": "#fff"},
        {"offset": 1, "color": "#fff"}]}},
      "encoding": {
        "x": {"field": "fund", "type": "nominal", "scale": {"domain": ["All Funds", "State General Fund"], "range": [297, 940], "padding": 0}, "axis": null},
        "theta": {"field": "t0", "type": "quantitative", "scale": {"domain": [0, 100]}, "stack": null},
        "theta2": {"field": "t1"}
      }
    },
    {
      "transform": [{"filter": "datum.program === 'Infrastructure' && datum.fund === 'State General Fund'"}],
      "mark": {"type": "arc", "outerRadius": 176, "y": 375, "blend": "lighten", "fill": {"gradient": "linear", "x1": 0, "y1": 0, "x2": 1, "y2": 0, "stops": [
        {"offset": 0, "color": "#fff"},
        {"offset": 0.0404, "color": "#fff"}, {"offset": 0.0404, "color": "#000"}, {"offset": 0.0692, "color": "#000"}, {"offset": 0.0692, "color": "#fff"},
        {"offset": 0.1303, "color": "#fff"}, {"offset": 0.1303, "color": "#000"}, {"offset": 0.1591, "color": "#000"}, {"offset": 0.1591, "color": "#fff"},
        {"offset": 0.2201, "color": "#fff"}, {"offset": 0.2201, "color": "#000"}, {"offset": 0.2489, "color": "#000"}, {"offset": 0.2489, "color": "#fff"},
        {"offset": 0.31, "color": "#fff"}, {"offset": 0.31, "color": "#000"}, {"offset": 0.3388, "color": "#000"}, {"offset": 0.3388, "color": "#fff"},
        {"offset": 0.3998, "color": "#fff"}, {"offset": 0.3998, "color": "#000"}, {"offset": 0.4286, "color": "#000"}, {"offset": 0.4286, "color": "#fff"},
        {"offset": 0.4897, "color": "#fff"}, {"offset": 0.4897, "color": "#000"}, {"offset": 0.5185, "color": "#000"}, {"offset": 0.5185, "color": "#fff"},
        {"offset": 0.5795, "color": "#fff"}, {"offset": 0.5795, "color": "#000"}, {"offset": 0.6083, "color": "#000"}, {"offset": 0.6083, "color": "#fff"},
        {"offset": 0.6694, "color": "#fff"}, {"offset": 0.6694, "color": "#000"}, {"offset": 0.6982, "color": "#000"}, {"offset": 0.6982, "color": "#fff"},
        {"offset": 0.7592, "color": "#fff"}, {"offset": 0.7592, "color": "#000"}, {"offset": 0.7881, "color": "#000"}, {"offset": 0.7881, "color": "#fff"},
        {"offset": 0.8491, "color": "#fff"}, {"offset": 0.8491, "color": "#000"}, {"offset": 0.8779, "color": "#000"}, {"offset": 0.8779, "color": "#fff"},
        {"offset": 0.939, "color": "#fff"}, {"offset": 0.939, "color": "#000"}, {"offset": 0.9678, "color": "#000"}, {"offset": 0.9678, "color": "#fff"},
        {"offset": 1, "color": "#fff"}]}},
      "encoding": {
        "x": {"field": "fund", "type": "nominal", "scale": {"domain": ["All Funds", "State General Fund"], "range": [297, 940], "padding": 0}, "axis": null},
        "theta": {"field": "t0", "type": "quantitative", "scale": {"domain": [0, 100]}, "stack": null},
        "theta2": {"field": "t1"}
      }
    },
    {
      "transform": [{"filter": "datum.program === 'Debt Service'"}],
      "mark": {"type": "arc", "outerRadius": 176, "y": 375, "fill": {"gradient": "linear", "x1": 0, "y1": 0, "x2": 1, "y2": 0, "stops": [
        {"offset": 0, "color": "#000"}, {"offset": 0.5, "color": "#000"}, {"offset": 0.5, "color": "#fff"}, {"offset": 1, "color": "#fff"}]}},
      "encoding": {
        "x": {"field": "fund", "type": "nominal", "scale": {"domain": ["All Funds", "State General Fund"], "range": [297, 940], "padding": 0}, "axis": null},
        "theta": {"field": "t0", "type": "quantitative", "scale": {"domain": [0, 100]}, "stack": null},
        "theta2": {"field": "t1"}
      }
    },
    {
      "transform": [{"filter": "datum.program === 'Debt Service'"}],
      "mark": {"type": "arc", "outerRadius": 176, "y": 375, "blend": "difference", "fill": {"gradient": "linear", "x1": 0, "y1": 0, "x2": 0, "y2": 1, "stops": [
        {"offset": 0, "color": "#000"}, {"offset": 0.0428, "color": "#000"}, {"offset": 0.0428, "color": "#fff"},
        {"offset": 0.0855, "color": "#fff"}, {"offset": 0.0855, "color": "#000"}, {"offset": 0.1283, "color": "#000"}, {"offset": 0.1283, "color": "#fff"},
        {"offset": 0.171, "color": "#fff"}, {"offset": 0.171, "color": "#000"}, {"offset": 0.2138, "color": "#000"}, {"offset": 0.2138, "color": "#fff"},
        {"offset": 0.2566, "color": "#fff"}, {"offset": 0.2566, "color": "#000"}, {"offset": 0.2993, "color": "#000"}, {"offset": 0.2993, "color": "#fff"},
        {"offset": 0.3421, "color": "#fff"}, {"offset": 0.3421, "color": "#000"}, {"offset": 0.3848, "color": "#000"}, {"offset": 0.3848, "color": "#fff"},
        {"offset": 0.4276, "color": "#fff"}, {"offset": 0.4276, "color": "#000"}, {"offset": 0.4704, "color": "#000"}, {"offset": 0.4704, "color": "#fff"},
        {"offset": 0.5131, "color": "#fff"}, {"offset": 0.5131, "color": "#000"}, {"offset": 0.5559, "color": "#000"}, {"offset": 0.5559, "color": "#fff"},
        {"offset": 0.5986, "color": "#fff"}, {"offset": 0.5986, "color": "#000"}, {"offset": 0.6414, "color": "#000"}, {"offset": 0.6414, "color": "#fff"},
        {"offset": 0.6842, "color": "#fff"}, {"offset": 0.6842, "color": "#000"}, {"offset": 0.7269, "color": "#000"}, {"offset": 0.7269, "color": "#fff"},
        {"offset": 0.7697, "color": "#fff"}, {"offset": 0.7697, "color": "#000"}, {"offset": 0.8124, "color": "#000"}, {"offset": 0.8124, "color": "#fff"},
        {"offset": 0.8552, "color": "#fff"}, {"offset": 0.8552, "color": "#000"}, {"offset": 0.898, "color": "#000"}, {"offset": 0.898, "color": "#fff"},
        {"offset": 0.9407, "color": "#fff"}, {"offset": 0.9407, "color": "#000"}, {"offset": 0.9835, "color": "#000"}, {"offset": 0.9835, "color": "#fff"},
        {"offset": 1, "color": "#fff"}]}},
      "encoding": {
        "x": {"field": "fund", "type": "nominal", "scale": {"domain": ["All Funds", "State General Fund"], "range": [297, 940], "padding": 0}, "axis": null},
        "theta": {"field": "t0", "type": "quantitative", "scale": {"domain": [0, 100]}, "stack": null},
        "theta2": {"field": "t1"}
      }
    },
    {
      "mark": {"type": "arc", "outerRadius": 176, "y": 375, "filled": false, "stroke": "black", "strokeWidth": 1},
      "encoding": {
        "x": {"field": "fund", "type": "nominal", "scale": {"domain": ["All Funds", "State General Fund"], "range": [297, 940], "padding": 0}, "axis": null},
        "theta": {"field": "t0", "type": "quantitative", "scale": {"domain": [0, 100]}, "stack": null},
        "theta2": {"field": "t1"}
      }
    },
    {
      "transform": [{"filter": "datum.program === 'Administration'"}],
      "mark": {"type": "text", "y": 178, "fontSize": 26, "font": "Liberation Sans", "fill": "black", "baseline": "middle", "align": "center"},
      "encoding": {
        "x": {"field": "fund", "type": "nominal", "scale": {"domain": ["All Funds", "State General Fund"], "range": [297, 940], "padding": 0}, "axis": null},
        "text": {"field": "fund"}
      }
    },
    {
      "mark": {"type": "point", "filled": true, "opacity": 0, "y": 375},
      "encoding": {
        "x": {"field": "fund", "type": "nominal", "scale": {"domain": ["All Funds", "State General Fund"], "range": [297, 940], "padding": 0}, "axis": null},
        "color": {
          "field": "program", "type": "nominal",
          "scale": {"domain": ["Administration", "Emergency Management and Homeland Security", "Infrastructure", "Debt Service", "Declared Disaster Payments"], "range": ["#c8c8c8", "#000000", "#000000", "#000000", "#000000"]},
          "legend": {"orient": "none", "legendX": 158, "legendY": 593, "columns": 3, "direction": "horizontal", "title": " ", "titleOrient": "right", "titlePadding": 76, "titleFontSize": 12, "titleAnchor": "end", "titleBaseline": "top", "symbolSize": 576, "symbolOpacity": 1, "labelFont": "Liberation Sans", "labelFontSize": 23, "labelColor": "black", "labelLimit": 500, "labelOffset": 6, "labelBaseline": "alphabetic", "columnPadding": 64, "rowPadding": -1, "padding": 12, "fillColor": "white", "strokeColor": "black",
            "labelExpr": "datum.label == 'Emergency Management and Homeland Security' ? ['Emergency Management and', 'Homeland Security'] : (datum.label == 'Administration' || datum.label == 'Infrastructure') ? [datum.label, ' '] : datum.label",
            "encode": {"labels": {"update": {"dy": {"value": 8}, "lineHeight": {"value": 27}}}, "legend": {"update": {"strokeWidth": {"value": 2.5}}}}}
        },
        "shape": {
          "field": "program", "type": "nominal",
          "scale": {"domain": ["Administration", "Emergency Management and Homeland Security", "Infrastructure", "Debt Service", "Declared Disaster Payments"],
            "range": [
              "M-1,-1.2H1V0.8H-1Z",
              "M-1,-1.2h0.1v1.4h-0.1Z M-0.525,-1.2h0.1v1.4h-0.1Z M-0.05,-1.2h0.1v1.4h-0.1Z M0.425,-1.2h0.1v1.4h-0.1Z M0.9,-1.2h0.1v1.4h-0.1Z M-1,-1.2h2v0.1h-2Z M-1,-0.875h2v0.1h-2Z M-1,-0.55h2v0.1h-2Z M-1,-0.225h2v0.1h-2Z M-1,0.1h2v0.1h-2Z",
              "M0,-1.2 M-1,-1.12h0.55v0.55h-0.55Z M-0.87,-0.99v0.29h0.29v-0.29Z M0.23,-1.12h0.55v0.55h-0.55Z M0.36,-0.99v0.29h0.29v-0.29Z M-1,-0.17h0.55v0.55h-0.55Z M-0.87,-0.04v0.29h0.29v-0.29Z M0.23,-0.17h0.55v0.55h-0.55Z M0.36,-0.04v0.29h0.29v-0.29Z",
              "M-1,-1.47H-0.54V-1.05H-1Z M-0.08,-1.47H0.37V-1.05H-0.08Z M-0.54,-1.05H-0.08V-0.64H-0.54Z M0.37,-1.05H0.83V-0.64H0.37Z M-1,-0.64H-0.54V-0.22H-1Z M-0.08,-0.64H0.37V-0.22H-0.08Z",
              "M0,-1.47 M-1,-0.53h0.1v1.25h-0.1Z M-0.525,-0.53h0.1v1.25h-0.1Z M-0.05,-0.53h0.1v1.25h-0.1Z M0.425,-0.53h0.1v1.25h-0.1Z M0.9,-0.53h0.1v1.25h-0.1Z"
            ]},
          "legend": {"orient": "none", "legendX": 158, "legendY": 593, "columns": 3, "direction": "horizontal", "title": " ", "titleOrient": "right", "titlePadding": 76, "titleFontSize": 12, "titleAnchor": "end", "titleBaseline": "top", "symbolSize": 576, "symbolOpacity": 1, "labelFont": "Liberation Sans", "labelFontSize": 23, "labelColor": "black", "labelLimit": 500, "labelOffset": 6, "labelBaseline": "alphabetic", "columnPadding": 64, "rowPadding": -1, "padding": 12, "fillColor": "white", "strokeColor": "black",
            "labelExpr": "datum.label == 'Emergency Management and Homeland Security' ? ['Emergency Management and', 'Homeland Security'] : (datum.label == 'Administration' || datum.label == 'Infrastructure') ? [datum.label, ' '] : datum.label",
            "encode": {"labels": {"update": {"dy": {"value": 8}, "lineHeight": {"value": 27}}}, "legend": {"update": {"strokeWidth": {"value": 2.5}}}}}
        }
      }
    }
  ],
  "config": {"view": {"stroke": null}, "font": "Liberation Sans"}
}
